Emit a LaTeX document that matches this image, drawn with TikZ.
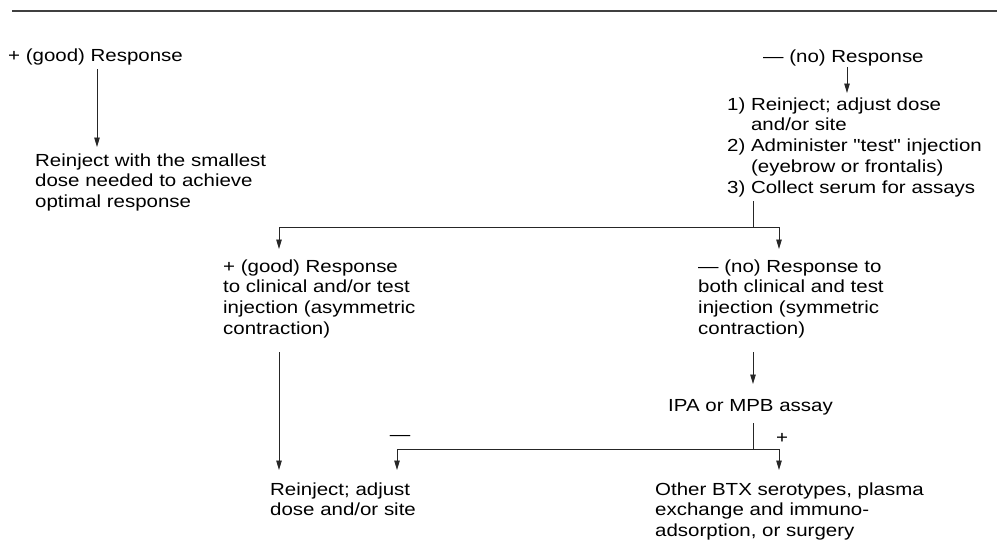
\documentclass[tikz,border=0pt]{standalone}
\usepackage{fontspec}
\setmainfont{Liberation Sans}[FakeStretch=1.17, Ligatures=TeXOff]
\usetikzlibrary{arrows.meta}
\newcommand\mystrut{\rule{0pt}{13pt}}
\begin{document}
\begin{tikzpicture}[x=1pt,y=-1pt,
  txt/.style={inner sep=0pt, font=\fontsize{17.5}{20.7}\selectfont, align=left},
  blk/.style={txt, anchor=north west},
  one/.style={txt, anchor=base west},
  lbl/.style={txt, anchor=base},
  ln/.style={line width=0.9pt, draw=black!85},
  arr/.style={ln, -{Triangle[length=9.5pt,width=5.5pt]}},
  rule/.style={line width=1.1pt, draw=black!75}]
\useasboundingbox (0,0) rectangle (997,544);
% top rule
\coordinate (ruleL) at (12,11);
\coordinate (ruleR) at (997,11);
\draw[rule] (ruleL) -- (ruleR);

% texts
\node[one] (g1) at (8,61) {+ (good) Response};
\node[blk] (r1) at (35,153) {\mystrut Reinject with the smallest\\dose needed to achieve\\optimal response};
\node[one] (n1) at (763,62) {— (no) Response};
\node[blk] (s1) at (727,97) {\mystrut 1) Reinject; adjust dose\\\hphantom{1)}\ and/or site\\2) Administer "test" injection\\\hphantom{2)}\ (eyebrow or frontalis)\\3) Collect serum for assays};
\node[blk] (g2) at (223,259) {\mystrut + (good) Response\\to clinical and/or test\\injection (asymmetric\\contraction)};
\node[blk] (n2) at (698,259) {\mystrut — (no) Response to\\both clinical and test\\injection (symmetric\\contraction)};
\node[one] (ipa) at (668,411) {IPA or MPB assay};
\node[blk] (r2) at (270,482) {\mystrut Reinject; adjust\\dose and/or site};
\node[blk] (o2) at (655,482) {\mystrut Other BTX serotypes, plasma\\exchange and immuno-\\adsorption, or surgery};
\node[lbl] (minus) at (400,440) {—};
\node[lbl] (plus) at (782,443) {+};

% connector points
\coordinate (a1s) at (97,69);   \coordinate (a1e) at (97,147);
\coordinate (a2s) at (847,67);  \coordinate (a2e) at (847,93);
\coordinate (b1s) at (753,201); \coordinate (b1j) at (753,227);
\coordinate (b1l) at (279,249); \coordinate (b1r) at (779,249);
\coordinate (c1s) at (279,352); \coordinate (c1e) at (279,470);
\coordinate (c2s) at (753,352); \coordinate (c2e) at (753,384);
\coordinate (d1s) at (753,423); \coordinate (d1j) at (753,449);
\coordinate (d1l) at (397,470); \coordinate (d1r) at (779,470);

\draw[arr] (a1s) -- (a1e);
\draw[arr] (a2s) -- (a2e);
\draw[ln] (b1s) -- (b1j);
\draw[arr] (b1j) -| (b1l);
\draw[arr] (b1j) -| (b1r);
\draw[arr] (c1s) -- (c1e);
\draw[arr] (c2s) -- (c2e);
\draw[ln] (d1s) -- (d1j);
\draw[arr] (d1j) -| (d1l);
\draw[arr] (d1j) -| (d1r);
\end{tikzpicture}
\end{document}
